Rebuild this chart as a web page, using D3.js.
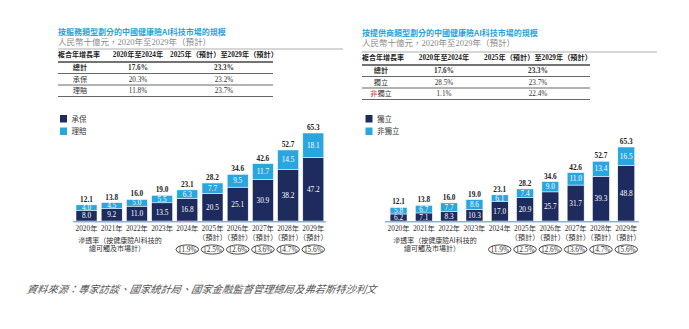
<!DOCTYPE html>
<html>
<head>
<meta charset="utf-8">
<script src="https://cdn.jsdelivr.net/npm/d3@7.9.0/dist/d3.min.js"></script>
<style>
  html, body { margin: 0; padding: 0; background: #fff; }
  svg { display: block; }
  .serif { font-family: "Liberation Serif", "Noto Sans CJK TC", serif; }
  .sans { font-family: "Noto Sans CJK TC", "Noto Sans", sans-serif; }
</style>
</head>
<body>
<svg id="chart" width="689" height="329"></svg>
<script>
// years on the x axis, forecast years get a second "(預計)" line
const years = ['2020年', '2021年', '2022年', '2023年', '2024年', '2025年', '2026年', '2027年', '2028年', '2029年'];
const forecast = [false, false, false, false, false, true, true, true, true, true];

// left panel: by service type
const underwriting = [8.0, 9.2, 11.0, 13.5, 16.8, 20.5, 25.1, 30.9, 38.2, 47.2];
const claims = [4.0, 4.5, 5.0, 5.5, 6.3, 7.7, 9.5, 11.7, 14.5, 18.1];
const totalsService = [12.1, 13.8, 16.0, 19.0, 23.1, 28.2, 34.6, 42.6, 52.7, 65.3];

// right panel: by provider type
const independent = [6.2, 7.1, 8.3, 10.3, 17.0, 20.9, 25.7, 31.7, 39.3, 48.8];
const nonIndependent = [5.8, 6.7, 7.7, 8.6, 6.1, 7.4, 9.0, 11.0, 13.4, 16.5];
const totalsProvider = [12.1, 13.8, 16.0, 19.0, 23.1, 28.2, 34.6, 42.6, 52.7, 65.3];

// penetration rates, 2024 onward
const penetrationYears = years.slice(4);
const penetration = ['11.9%', '12.5%', '12.6%', '13.6%', '14.7%', '15.6%'];

// CAGR tables
const cagrHeader = ['複合年增長率', '2020年至2024年', '2025年（預計）至2029年（預計）'];
const cagrService = [
  ['總計', '17.6%', '23.3%'],
  ['承保', '20.3%', '23.2%'],
  ['理賠', '11.8%', '23.7%']
];
const cagrProvider = [
  ['總計', '17.6%', '23.3%'],
  ['獨立', '28.5%', '23.7%'],
  ['非獨立', '1.1%', '22.4%']
];

const NAVY = '#1d2b5e';
const SKY = '#2aa6df';

const svg = d3.select('#chart');

function drawTable(t) {
  const g = svg.append('g');
  g.append('text').attr('class', 'sans').attr('x', t.left).attr('y', t.titleY)
    .attr('font-size', 8).attr('font-weight', 'bold').attr('fill', '#2aa3dc').text(t.title);
  g.append('text').attr('class', 'serif').attr('x', t.left).attr('y', t.titleY + 10)
    .attr('font-size', 8.5).attr('fill', '#8a8a8a').text('人民幣十億元，2020年至2029年（預計）');

  g.append('line').attr('x1', t.left).attr('x2', t.ruleEnd).attr('y1', t.top).attr('y2', t.top)
    .attr('stroke', '#9a9a9a').attr('stroke-width', 0.8);

  g.append('text').attr('class', 'sans').attr('x', t.left).attr('y', t.top + 8)
    .attr('font-size', 7).attr('font-weight', 'bold').attr('fill', '#222').text(cagrHeader[0]);
  [1, 2].forEach(i => {
    g.append('text').attr('class', 'serif').attr('x', t.cols[i]).attr('y', t.top + 8)
      .attr('text-anchor', 'middle').attr('font-size', 7.2).attr('font-weight', 'bold')
      .attr('fill', '#222').text(cagrHeader[i]);
  });

  const rowY = d3.scaleLinear().domain([0, 1]).range([t.top + 13, t.top + 24.5]);
  g.append('line').attr('x1', t.left).attr('x2', t.right).attr('y1', rowY(0)).attr('y2', rowY(0))
    .attr('stroke', '#444').attr('stroke-width', 1.3);

  t.rows.forEach((row, r) => {
    const y = rowY(r) + 8;
    row.forEach((cell, c) => {
      const txt = g.append('text').attr('class', 'serif').attr('x', t.cols[c]).attr('y', y)
        .attr('text-anchor', 'middle').attr('font-size', 7.2).attr('fill', '#333')
        .attr('font-weight', r === 0 ? 'bold' : 'normal');
      if (cell.startsWith('非')) {
        txt.append('tspan').attr('fill', '#c8343a').text('非');
        txt.append('tspan').text(cell.slice(1));
      } else {
        txt.text(cell);
      }
    });
    g.append('line').attr('x1', t.left).attr('x2', t.right).attr('y1', rowY(r + 1)).attr('y2', rowY(r + 1))
      .attr('stroke', '#555').attr('stroke-width', 0.9);
  });
}

function drawBars(p) {
  const g = svg.append('g');
  const rows = years.map((yr, i) => ({ year: yr, a: p.a[i], b: p.b[i], total: p.totals[i] }));
  const stacked = d3.stack().keys(['a', 'b'])(rows);

  const x = d3.scaleBand().domain(years).range(p.xRange)
    .paddingInner(p.padInner).paddingOuter(p.padInner / 2);
  const y = d3.scaleLinear().domain([0, 65.3]).range([p.base, p.top]);

  // legend
  p.legend.forEach((name, i) => {
    const ly = 115 + i * 12.5;
    g.append('rect').attr('x', p.legendX).attr('y', ly).attr('width', 7).attr('height', 7.5)
      .attr('fill', i === 0 ? NAVY : SKY);
    g.append('text').attr('class', 'serif').attr('x', p.legendX + 11.5).attr('y', ly + 6.5)
      .attr('font-size', 7.5).attr('fill', '#333').text(name);
  });

  const colors = [NAVY, SKY];
  stacked.forEach((layer, li) => {
    g.selectAll(null).data(layer).join('rect')
      .attr('x', d => x(d.data.year))
      .attr('y', d => y(d[1]))
      .attr('width', x.bandwidth())
      .attr('height', d => y(d[0]) - y(d[1]))
      .attr('fill', colors[li])
      .attr('stroke', '#fff').attr('stroke-width', 0.5);

    g.selectAll(null).data(layer).join('text')
      .attr('class', 'serif')
      .attr('x', d => x(d.data.year) + x.bandwidth() / 2)
      .attr('y', d => (y(d[0]) + y(d[1])) / 2 + 2.6)
      .attr('text-anchor', 'middle').attr('font-size', 7.3).attr('fill', '#fff')
      .text(d => (d[1] - d[0]).toFixed(1));
  });

  // totals above each stack
  g.selectAll(null).data(rows).join('text')
    .attr('class', 'serif')
    .attr('x', d => x(d.year) + x.bandwidth() / 2)
    .attr('y', d => y(d.a + d.b) - 3)
    .attr('text-anchor', 'middle').attr('font-size', 7.3).attr('font-weight', 'bold').attr('fill', '#222')
    .text(d => d.total.toFixed(1));

  // baseline
  g.append('line').attr('x1', p.xRange[0] - 1).attr('x2', p.xRange[1])
    .attr('y1', p.base + 0.8).attr('y2', p.base + 0.8)
    .attr('stroke', '#8fb1cf').attr('stroke-width', 1.6);

  // year labels
  const xl = g.selectAll(null).data(years).join('text')
    .attr('class', 'serif')
    .attr('x', d => x(d) + x.bandwidth() / 2)
    .attr('y', p.base + 10)
    .attr('text-anchor', 'middle').attr('font-size', 7.3).attr('fill', '#333');
  xl.append('tspan').text(d => d);
  xl.filter((d, i) => forecast[i]).append('tspan')
    .attr('x', d => x(d) + x.bandwidth() / 2).attr('dy', 8.6).text('（預計）');

  // penetration label
  const pl = g.append('text').attr('class', 'sans').attr('x', p.penX).attr('y', p.base + 22)
    .attr('text-anchor', 'middle').attr('font-size', 7).attr('fill', '#333');
  pl.append('tspan').text('滲透率（按健康險AI科技的');
  pl.append('tspan').attr('x', p.penX - 3).attr('dy', 8.4).text('總可觸及市場計）');

  const cells = g.selectAll(null).data(penetrationYears.map((yr, i) => ({ yr, v: penetration[i] })))
    .join('g')
    .attr('transform', d => `translate(${x(d.yr) + x.bandwidth() / 2},${p.base + 28.5})`);
  cells.append('ellipse').attr('rx', 11.3).attr('ry', 4.6)
    .attr('fill', 'none').attr('stroke', '#333').attr('stroke-width', 0.9);
  cells.append('text').attr('class', 'serif').attr('y', 2.6).attr('text-anchor', 'middle')
    .attr('font-size', 7.3).attr('fill', '#333').text(d => d.v);
}

drawTable({
  title: '按服務類型劃分的中國健康險AI科技市場的規模',
  titleY: 35, left: 58, right: 273, ruleEnd: 343, top: 49,
  cols: [80, 138, 224], rows: cagrService
});
drawTable({
  title: '按提供商類型劃分的中國健康險AI科技市場的規模',
  titleY: 36, left: 362, right: 590, ruleEnd: 657, top: 52,
  cols: [381, 444, 538], rows: cagrProvider
});

drawBars({
  a: underwriting, b: claims, totals: totalsService,
  legend: ['承保', '理賠'], legendX: 60,
  xRange: [73.9, 325.9], padInner: 0.167, base: 221, top: 133, penX: 120
});
drawBars({
  a: independent, b: nonIndependent, totals: totalsProvider,
  legend: ['獨立', '非獨立'], legendX: 365.5,
  xRange: [385.9, 638.9], padInner: 0.33, base: 221, top: 147, penX: 435
});

// source note
svg.append('text').attr('class', 'sans').attr('x', 27).attr('y', 293)
  .attr('font-size', 10.3).attr('font-style', 'italic').attr('fill', '#555')
  .attr('transform', 'skewX(-10) translate(51,0)')
  .text('資料來源：專家訪談、國家統計局、國家金融監督管理總局及弗若斯特沙利文');
</script>
</body>
</html>
